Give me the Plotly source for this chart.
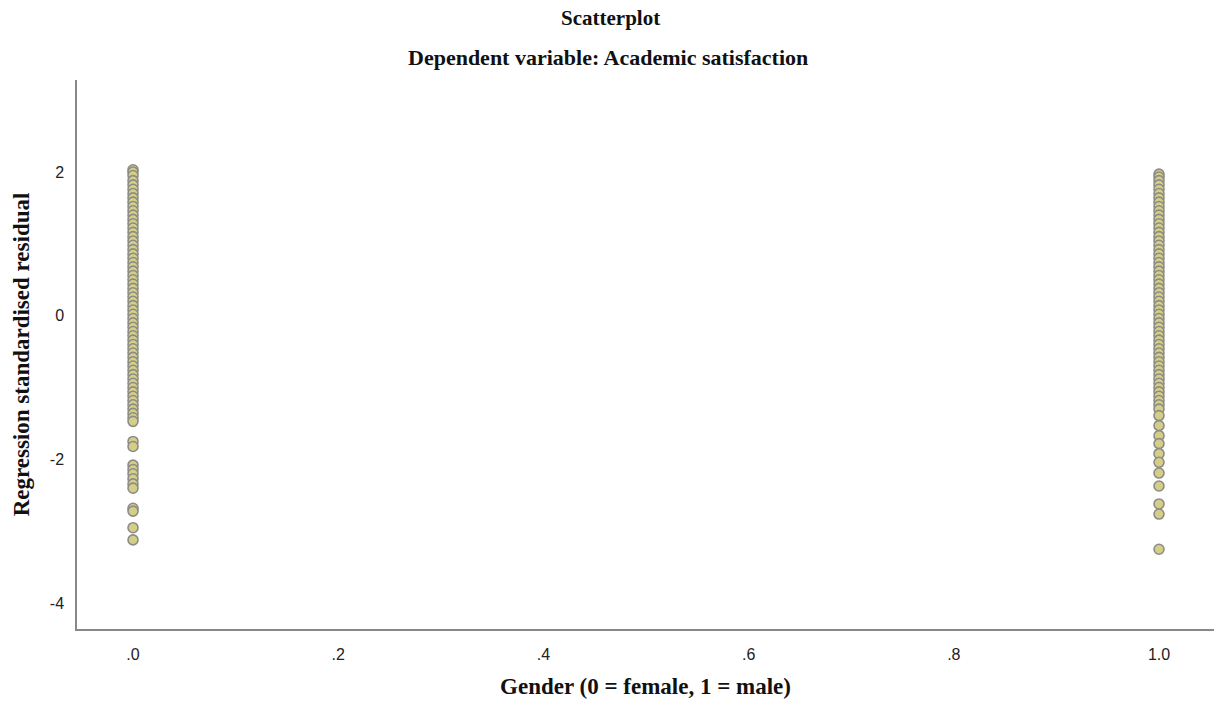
import plotly.graph_objects as go

# Standardised residuals
female_resid = [2.03, 2.0, 1.95, 1.88, 1.82, 1.76, 1.7, 1.64, 1.58, 1.52, 1.46, 1.4,
                1.34, 1.28, 1.22, 1.16, 1.1, 1.04, 0.98, 0.92, 0.86, 0.8, 0.74, 0.68,
                0.62, 0.56, 0.5, 0.44, 0.38, 0.32, 0.26, 0.2, 0.14, 0.08, 0.02, -0.04,
                -0.1, -0.16, -0.22, -0.28, -0.34, -0.4, -0.46, -0.52, -0.58, -0.64,
                -0.7, -0.76, -0.82, -0.88, -0.94, -1.0, -1.06, -1.12, -1.18, -1.24,
                -1.3, -1.36, -1.42, -1.47, -1.75, -1.82, -2.08, -2.14, -2.2, -2.27,
                -2.34, -2.4, -2.68, -2.72, -2.95, -3.12]
male_resid = [1.97, 1.93, 1.88, 1.82, 1.76, 1.7, 1.64, 1.58, 1.52, 1.46, 1.4, 1.34,
              1.28, 1.22, 1.16, 1.1, 1.04, 0.98, 0.92, 0.86, 0.8, 0.74, 0.68, 0.62,
              0.56, 0.5, 0.44, 0.38, 0.32, 0.26, 0.2, 0.14, 0.08, 0.02, -0.04, -0.1,
              -0.16, -0.22, -0.28, -0.34, -0.4, -0.46, -0.52, -0.58, -0.64, -0.7,
              -0.76, -0.82, -0.88, -0.94, -1.0, -1.06, -1.12, -1.18, -1.24, -1.3,
              -1.39, -1.53, -1.67, -1.78, -1.92, -2.04, -2.19, -2.37, -2.62, -2.76,
              -3.25]
female_x = [0.0] * len(female_resid)
male_x = [1.0] * len(male_resid)

x_tickvals = [0, 0.2, 0.4, 0.6, 0.8, 1.0]
x_ticktext = [".0", ".2", ".4", ".6", ".8", "1.0"]
y_tickvals = [-4, -2, 0, 2]
y_ticktext = ["-4", "-2", "0", "2"]

serif = "Liberation Serif, Times New Roman"
fig = go.Figure()
fig.add_trace(go.Scatter(
    x=female_x + male_x, y=female_resid + male_resid, mode="markers",
    marker=dict(size=10, color="#d4ce88", line=dict(color="#8c8c86", width=1.6)),
    showlegend=False, hoverinfo="y"))

axis_font = dict(family="Liberation Sans, Arial", size=16, color="#222")
fig.update_layout(
    width=1221, height=707,
    margin=dict(l=77, r=7, t=80, b=78),
    plot_bgcolor="white", paper_bgcolor="white",
    xaxis=dict(range=[-0.0546, 1.0536], tickvals=x_tickvals, ticktext=x_ticktext,
               showgrid=False, zeroline=False, showline=True, linecolor="#888",
               linewidth=1.5, ticks="", tickfont=axis_font, ticklabelstandoff=10,
               title=dict(text="<b>Gender (0 = female, 1 = male)</b>", standoff=16,
                          font=dict(family=serif, size=23, color="#111"))),
    yaxis=dict(range=[-4.36, 3.28], tickvals=y_tickvals, ticktext=y_ticktext,
               showgrid=False, zeroline=False, showline=True, linecolor="#888",
               linewidth=1.5, ticks="", tickfont=axis_font, ticklabelstandoff=8,
               title=dict(text="<b>Regression standardised residual</b>", standoff=14,
                          font=dict(family=serif, size=23, color="#111"))),
    annotations=[
        dict(text="<b>Scatterplot</b>", x=0.4688, xref="paper", y=1, yref="paper",
             yanchor="middle", yshift=62, showarrow=False,
             font=dict(family=serif, size=21, color="#111")),
        dict(text="<b>Dependent variable: Academic satisfaction</b>", x=0.4670, xref="paper",
             y=1, yref="paper", yanchor="middle", yshift=23, showarrow=False,
             font=dict(family=serif, size=22, color="#111")),
    ],
)
fig.write_html("out.html")
